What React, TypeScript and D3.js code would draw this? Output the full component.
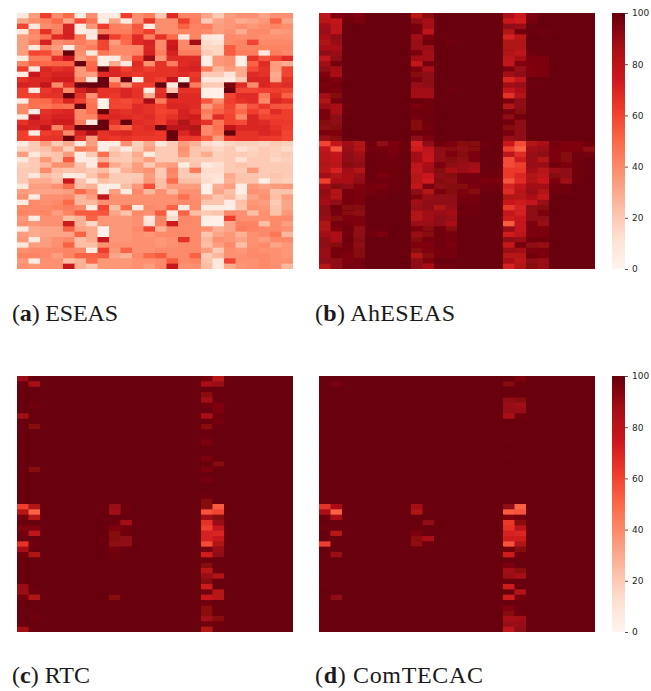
import React, { useEffect, useRef } from 'react';
import * as d3 from 'd3';

// ==== data (24 columns, 48 rows)

const columns = d3.range(24);
const rows = d3.range(48);
const barTicks = [0, 20, 40, 60, 80, 100];

const eseasRows = [
  [8,34,62,39,50,6,39,6,6,62,39,44,20,68,42,42,32,20,34,38,38,32,38,38],
  [32,39,42,50,32,58,47,4,32,6,39,65,39,39,62,44,20,32,36,30,32,36,52,32],
  [60,8,39,42,72,5,36,62,44,42,55,6,39,39,52,42,44,34,36,39,36,39,42,39],
  [8,42,66,44,72,5,8,44,44,44,54,62,39,39,42,42,40,34,38,30,40,40,34,36],
  [34,39,47,68,72,46,6,88,62,52,68,44,66,50,8,42,8,6,40,39,40,38,38,38],
  [34,44,72,39,42,44,39,60,34,50,68,72,40,74,40,88,14,10,40,42,60,40,40,40],
  [34,8,40,34,6,40,44,60,40,40,40,70,40,76,40,40,16,16,54,42,42,42,42,42],
  [34,60,58,42,100,39,8,46,40,40,42,72,44,72,44,44,20,16,54,44,44,8,44,40],
  [6,44,44,66,76,35,42,4,5,36,60,90,36,68,68,68,4,36,38,4,66,56,60,68],
  [42,52,50,52,52,100,50,4,30,8,68,38,66,44,68,70,4,36,38,4,52,68,34,30],
  [62,8,70,66,68,36,52,100,70,62,66,62,66,66,70,72,45,26,34,30,58,66,34,60],
  [6,76,68,72,72,36,34,68,70,66,64,66,66,66,68,64,20,20,10,30,68,66,30,60],
  [66,70,70,74,74,42,8,100,30,100,6,66,62,78,4,66,8,8,6,20,70,70,32,66],
  [72,70,78,40,66,100,100,100,52,36,62,62,100,8,100,44,20,20,96,68,40,70,66,68],
  [62,6,64,68,40,72,84,66,66,70,66,6,66,22,66,66,4,3,100,60,60,62,62,60],
  [62,60,66,66,100,66,38,66,64,70,66,30,68,100,68,68,4,3,60,68,68,45,66,52],
  [6,48,50,58,70,60,45,3,60,58,62,88,45,68,68,68,55,38,62,66,68,40,70,66],
  [40,48,46,50,48,100,48,3,60,60,68,66,62,70,70,68,35,48,60,44,56,64,56,55],
  [40,6,66,68,70,40,48,100,68,66,68,66,60,62,72,66,44,52,58,50,62,56,68,62],
  [6,80,68,72,72,40,42,68,70,68,66,68,62,66,72,74,40,68,60,40,70,60,62,62],
  [66,72,70,74,74,44,6,100,66,100,68,66,62,72,84,72,66,46,60,58,70,68,64,64],
  [72,70,78,42,66,100,100,100,56,52,66,68,100,80,80,84,40,48,78,70,70,70,66,62],
  [62,6,62,64,40,72,86,66,68,70,66,66,64,100,70,80,40,46,100,66,66,70,68,60],
  [62,60,66,66,100,66,34,66,64,66,64,64,64,100,64,64,54,34,64,66,66,64,64,60],
  [6,20,34,20,30,6,34,4,4,38,18,30,8,20,34,28,14,10,16,18,18,16,20,18],
  [16,20,24,34,18,45,40,4,18,6,20,34,20,20,38,22,20,16,20,12,16,20,18,14],
  [34,8,20,22,35,5,20,48,24,20,30,6,20,20,36,22,30,18,20,20,18,20,18,20],
  [8,20,36,22,55,5,8,28,20,20,26,34,20,20,24,20,20,18,20,12,20,20,16,18],
  [18,20,26,38,38,22,6,55,30,24,34,20,32,34,6,22,6,12,20,22,20,20,20,20],
  [20,20,40,24,22,24,20,24,14,28,34,38,20,42,20,45,14,14,20,20,36,20,20,20],
  [20,8,24,20,6,8,22,34,20,20,20,34,20,40,20,20,12,10,30,22,22,20,22,20],
  [20,30,30,24,76,22,8,24,20,20,22,36,24,50,24,24,14,8,28,22,22,4,20,18],
  [8,34,34,38,50,24,28,4,4,24,36,58,24,34,34,34,3,29,34,5,36,32,34,36],
  [34,32,32,32,34,50,38,3,34,6,40,26,38,26,38,38,3,32,24,4,38,36,22,22],
  [38,6,38,38,40,26,34,78,38,38,38,38,38,38,48,38,30,22,26,14,32,38,24,34],
  [6,40,38,40,50,26,26,38,38,38,38,38,38,38,40,40,22,22,6,24,36,34,20,32],
  [40,40,40,42,44,40,6,60,24,50,6,40,38,52,6,40,6,6,4,22,38,36,22,32],
  [42,40,42,34,42,54,54,56,32,22,40,38,54,6,52,24,20,22,40,38,24,38,22,36],
  [36,6,38,38,24,28,52,36,36,36,38,8,42,14,40,40,4,3,62,38,38,38,40,40],
  [38,36,38,38,74,28,16,36,36,36,38,12,42,74,40,40,3,3,32,42,42,24,40,34],
  [6,30,32,32,52,32,30,3,36,36,40,60,28,40,40,40,38,28,32,44,42,40,40,38],
  [34,30,32,32,32,52,30,3,36,36,38,36,40,40,40,40,22,32,36,28,38,40,46,26],
  [36,6,34,38,40,24,30,76,36,36,38,38,36,38,66,40,26,38,36,32,38,34,40,40],
  [8,34,34,38,52,24,24,38,38,38,38,38,36,38,40,40,24,34,40,24,38,40,32,36],
  [38,40,40,40,42,40,6,62,36,52,38,38,40,40,40,40,34,20,38,36,40,38,38,36],
  [42,42,40,34,42,52,52,54,32,28,40,50,54,40,40,52,20,26,38,38,40,40,38,36],
  [36,6,38,38,24,28,50,36,36,36,38,38,40,54,40,42,22,8,60,38,38,40,38,38],
  [38,36,38,38,76,28,22,36,36,36,38,34,40,76,38,38,24,8,30,36,38,40,38,26],
];

const ahEseasRows = [
  [80,95,97,96,100,100,100,100,82,93,100,100,100,100,100,100,85,75,96,100,100,100,100,100],
  [82,78,98,96,100,100,100,100,92,86,100,100,100,100,100,100,76,74,97,100,100,100,100,100],
  [88,80,100,100,100,100,100,100,97,88,100,100,100,100,100,100,92,90,100,100,100,100,100,100],
  [90,80,100,100,100,100,100,100,97,80,100,100,100,100,100,100,84,98,100,98,100,100,100,100],
  [86,92,100,100,100,100,100,100,88,95,100,100,100,100,100,100,72,82,100,100,100,100,100,100],
  [84,90,100,100,100,100,100,100,90,98,100,98,100,100,100,100,84,84,100,100,100,100,100,100],
  [86,86,100,100,100,100,100,100,90,90,100,100,100,100,100,100,84,84,100,100,100,100,100,100],
  [92,90,100,100,100,100,100,100,96,88,100,100,100,100,100,100,84,80,98,100,100,100,100,100],
  [78,92,100,100,100,100,100,100,88,88,100,100,100,100,100,100,80,86,96,96,100,100,100,100],
  [88,97,100,100,100,100,100,100,78,97,100,100,100,100,100,100,78,95,96,96,100,100,100,100],
  [92,88,100,100,100,100,100,100,96,86,100,100,100,100,100,100,96,90,95,96,100,100,100,100],
  [95,86,100,100,100,100,100,100,94,92,100,100,100,100,100,100,88,92,95,96,100,100,100,100],
  [97,95,100,100,100,100,100,100,96,92,100,100,100,100,100,100,70,78,100,100,100,100,100,100],
  [96,97,100,100,100,100,100,100,90,92,100,100,100,100,100,100,88,90,99,99,100,100,100,100],
  [97,96,100,100,100,100,100,100,88,88,100,98,100,100,100,100,78,86,100,100,100,100,100,100],
  [88,94,100,100,100,100,100,100,88,88,100,100,100,100,100,100,66,84,100,100,100,100,100,100],
  [84,97,100,100,100,100,100,100,100,98,100,100,100,100,100,100,96,92,100,100,100,100,100,100],
  [90,86,98,100,100,100,100,100,96,98,100,100,100,100,100,100,84,92,100,100,100,100,100,100],
  [96,86,100,100,100,100,100,100,98,98,100,100,100,100,100,100,97,94,100,100,100,100,100,100],
  [96,92,100,100,100,100,100,100,97,99,100,100,100,100,100,100,92,98,100,100,100,100,100,100],
  [94,92,100,100,100,100,100,100,94,98,100,100,100,100,100,100,98,92,100,100,100,100,100,100],
  [92,94,100,100,100,100,100,100,94,97,100,100,100,100,100,100,94,92,100,100,100,100,100,100],
  [96,95,100,100,100,100,100,100,98,98,100,100,100,100,100,100,97,92,100,100,100,100,100,100],
  [90,94,100,100,100,100,100,100,92,96,100,100,100,100,100,100,90,92,100,100,100,100,100,100],
  [60,78,88,84,98,92,96,99,72,92,98,96,94,94,98,100,76,58,84,86,97,96,95,98],
  [78,55,90,84,97,97,96,99,74,80,92,94,92,94,99,100,62,52,88,90,96,95,95,92],
  [82,78,92,88,99,99,97,100,88,78,92,96,94,96,100,100,80,68,90,92,96,94,98,97],
  [82,80,92,90,99,98,98,100,88,76,92,94,92,96,100,100,58,74,90,84,96,94,98,100],
  [84,82,94,92,99,98,98,100,80,86,96,92,90,88,100,100,58,62,90,90,98,96,98,100],
  [82,72,88,84,100,98,98,100,78,88,94,86,90,86,99,99,64,64,88,82,90,92,98,100],
  [88,84,86,90,99,96,98,100,82,76,92,94,97,97,98,98,64,70,84,80,94,92,98,100],
  [62,86,86,92,98,98,98,100,82,74,94,92,97,97,96,96,56,68,84,76,96,88,98,100],
  [87,94,92,95,97,96,98,100,78,96,92,94,94,96,98,98,72,78,88,88,98,98,100,100],
  [92,84,97,96,97,98,99,100,92,84,96,94,95,94,99,99,68,82,90,84,98,98,100,100],
  [90,84,97,96,99,99,100,100,95,90,92,92,97,97,100,100,84,82,86,78,100,100,100,100],
  [87,92,97,96,100,100,100,100,88,92,92,92,97,97,100,100,76,74,78,90,100,100,100,100],
  [92,98,94,94,100,100,100,100,90,92,84,90,100,98,100,100,64,72,92,94,100,100,100,100],
  [92,97,94,92,100,100,100,100,84,88,90,88,98,98,100,100,78,72,92,96,100,100,100,100],
  [90,94,95,95,100,100,100,100,84,88,92,90,100,100,100,100,74,76,92,92,100,100,100,100],
  [84,97,97,95,100,100,100,100,90,90,92,86,100,100,100,100,54,78,96,90,100,100,100,100],
  [84,95,98,92,99,99,100,100,96,94,98,94,100,100,100,100,90,78,96,96,100,100,100,100],
  [88,85,97,92,98,96,100,100,90,94,98,97,100,100,100,100,74,80,96,96,100,100,100,100],
  [92,85,98,94,100,100,100,100,94,97,98,97,100,100,100,100,92,90,98,98,100,100,100,100],
  [92,94,97,92,100,100,100,100,95,95,98,96,100,100,100,100,76,97,92,90,100,100,100,100],
  [90,97,97,94,100,100,100,100,94,95,97,97,100,100,100,100,90,88,96,96,100,100,100,100],
  [90,97,95,94,100,100,100,100,84,94,97,97,100,100,100,100,82,82,98,96,100,100,100,100],
  [92,92,95,97,100,100,100,100,92,95,100,100,100,100,100,100,86,80,92,90,100,100,100,100],
  [82,92,97,97,100,100,100,100,92,86,98,98,100,100,100,100,72,84,94,90,100,100,100,100],
];

// the last two panels sit at 100 nearly everywhere, so only the other cells are listed: [row, column, value]
const rtcCells = [
  [0,0,90],[0,16,97],[0,17,82],[1,1,86],[1,16,86],[1,17,90],[3,16,93],[4,16,88],[5,1,98],[5,16,98],[5,17,95],
  [6,17,96],[7,0,88],[7,16,86],[7,17,98],[8,17,97],[9,1,94],[9,16,93],[11,16,98],[12,16,96],[15,16,96],[16,17,94],
  [17,1,94],[17,16,96],[19,16,97],[22,16,98],[23,16,94],
  [24,0,62],[24,1,84],[24,8,90],[24,9,98],[24,16,94],[24,17,54],
  [25,0,82],[25,1,52],[25,8,88],[25,9,99],[25,16,56],[25,17,60],
  [26,0,97],[26,1,82],[26,16,88],[26,17,94],[27,9,88],[27,16,66],[27,17,90],
  [28,0,95],[28,1,95],[28,8,95],[28,9,98],[28,16,62],[28,17,78],
  [29,0,98],[29,1,80],[29,8,94],[29,9,98],[29,16,72],[29,17,70],
  [30,8,94],[30,9,92],[30,16,72],[30,17,76],
  [31,0,66],[31,1,98],[31,8,92],[31,9,92],[31,16,58],[31,17,84],
  [32,0,86],[32,8,97],[32,16,97],[32,17,90],[33,0,98],[33,1,84],[33,8,98],[33,16,74],[33,17,92],
  [34,8,99],[35,16,94],[36,16,82],[36,17,98],[37,16,90],[37,17,84],[38,16,94],
  [39,0,90],[39,16,74],[40,0,90],[40,1,98],[40,16,97],[40,17,82],
  [41,0,97],[41,1,84],[41,8,94],[41,16,76],[41,17,82],[42,16,98],[43,16,93],[44,1,99],[44,16,93],
  [45,1,98],[45,16,88],[45,17,94],[46,16,98],[46,17,98],[47,0,88],[47,16,84],[47,17,99],
];

const comTecacCells = [
  [0,17,96],[1,1,96],[1,16,94],[1,17,99],[4,16,92],[4,17,94],[5,16,90],[5,17,88],[6,16,91],[6,17,90],
  [7,16,86],[7,17,98],[12,16,99],[15,16,99],
  [24,0,66],[24,1,86],[24,8,88],[24,16,92],[24,17,52],
  [25,0,86],[25,1,52],[25,8,84],[25,16,54],[25,17,56],
  [26,0,99],[26,1,86],[26,16,95],[26,17,98],[27,9,92],[27,16,64],[27,17,93],
  [28,0,98],[28,8,99],[28,16,66],[28,17,80],[29,1,82],[29,8,96],[29,16,72],[29,17,70],
  [30,8,93],[30,9,86],[30,16,74],[30,17,74],[31,0,62],[31,8,92],[31,9,99],[31,16,56],[31,17,84],
  [32,16,98],[32,17,94],[33,1,90],[33,16,74],[33,17,99],[35,16,96],[36,16,88],[36,17,93],
  [37,16,90],[37,17,86],[38,16,99],[39,0,99],[39,16,74],[40,17,84],[41,1,92],[41,16,74],[41,17,97],
  [43,16,95],[44,16,94],[44,17,98],[45,16,86],[45,17,88],[46,16,90],[46,17,90],[47,16,80],[47,17,92],
];

// ====

// same stops as matplotlib's Reds
const color = d3.scaleLinear<string>()
  .domain(d3.range(9).map((i) => (i * 100) / 8))
  .range(d3.schemeReds[9])
  .clamp(true);

const fromCells = (cells: number[][]) => {
  const grid = rows.map(() => columns.map(() => 100));
  cells.forEach(([r, c, v]) => { grid[r][c] = v; });
  return grid;
};

const WIDTH = 276;
const HEIGHT = 256;
const xScale = d3.scaleBand<number>().domain(columns).range([0, WIDTH]);
const yScale = d3.scaleBand<number>().domain(rows).range([0, HEIGHT]);

function Heatmap({ id, x, y, grid }: { id: string; x: number; y: number; grid: number[][] }) {
  // cells overlap their right and lower neighbours by a pixel so no seams show; the clip trims the outer edge
  return (
    <g filter="url(#soften)">
      <clipPath id={id}>
        <rect x={0} y={0} width={WIDTH} height={HEIGHT} />
      </clipPath>
      <g transform={`translate(${x},${y})`} clipPath={`url(#${id})`}>
        {grid.map((line, r) =>
          line.map((v, c) => (
            <rect
              key={`${r}-${c}`}
              x={xScale(c)}
              y={yScale(r)}
              width={xScale.bandwidth() + 1}
              height={yScale.bandwidth() + 1}
              fill={color(v)}
            />
          ))
        )}
      </g>
    </g>
  );
}

function Colorbar({ id, x, y }: { id: string; x: number; y: number }) {
  const axisNode = useRef<SVGGElement>(null);
  const scale = d3.scaleLinear().domain([0, 100]).range([HEIGHT, 0]);

  useEffect(() => {
    const axis = d3.axisRight(scale).tickValues(barTicks).tickSize(3).tickPadding(4);
    const g = d3.select(axisNode.current).call(axis as any);
    g.select('.domain').remove();
    g.selectAll('line').attr('stroke', '#262626').attr('stroke-width', 0.8);
    g.selectAll('text')
      .attr('fill', '#262626')
      .attr('font-family', '"DejaVu Sans"')
      .attr('font-size', 9);
  }, []);

  return (
    <g transform={`translate(${x},${y})`}>
      <clipPath id={id}>
        <rect x={0} y={0} width={13} height={HEIGHT} />
      </clipPath>
      <g clipPath={`url(#${id})`}>
        {d3.range(100, -0.5, -0.5).map((v) => (
          <rect key={v} x={0} y={scale(v)} width={13} height={HEIGHT / 200 + 1} fill={color(v)} />
        ))}
      </g>
      <g ref={axisNode} transform="translate(13,0)" />
    </g>
  );
}

function Caption({ x, y, letter, name, length }: { x: number; y: number; letter: string; name: string; length: number }) {
  return (
    <text x={x} y={y} fontFamily='"Liberation Serif"' fontSize={24} fill="#1a1a1a" textLength={length} lengthAdjust="spacing">
      (<tspan fontWeight="bold">{letter}</tspan>) {name}
    </text>
  );
}

export default function App() {
  return (
    <svg width={651} height={691} style={{ position: 'absolute', left: 0, top: 0, display: 'block', background: '#fff' }}>
      <defs>
        <filter id="soften" filterUnits="userSpaceOnUse" x="0" y="0" width="651" height="691">
          <feGaussianBlur stdDeviation="0.45" />
        </filter>
      </defs>

      <Heatmap id="clip-a" x={17} y={13} grid={eseasRows} />
      <Heatmap id="clip-b" x={319} y={13} grid={ahEseasRows} />
      <Colorbar id="clip-bar-top" x={612} y={13} />
      <Caption x={12} y={321} letter="a" name="ESEAS" length={106} />
      <Caption x={315} y={321} letter="b" name="AhESEAS" length={140} />

      <Heatmap id="clip-c" x={17} y={376} grid={fromCells(rtcCells)} />
      <Heatmap id="clip-d" x={319} y={376} grid={fromCells(comTecacCells)} />
      <Colorbar id="clip-bar-bottom" x={612} y={376} />
      <Caption x={12} y={683} letter="c" name="RTC" length={78} />
      <Caption x={315} y={683} letter="d" name="ComTECAC" length={168} />
    </svg>
  );
}
